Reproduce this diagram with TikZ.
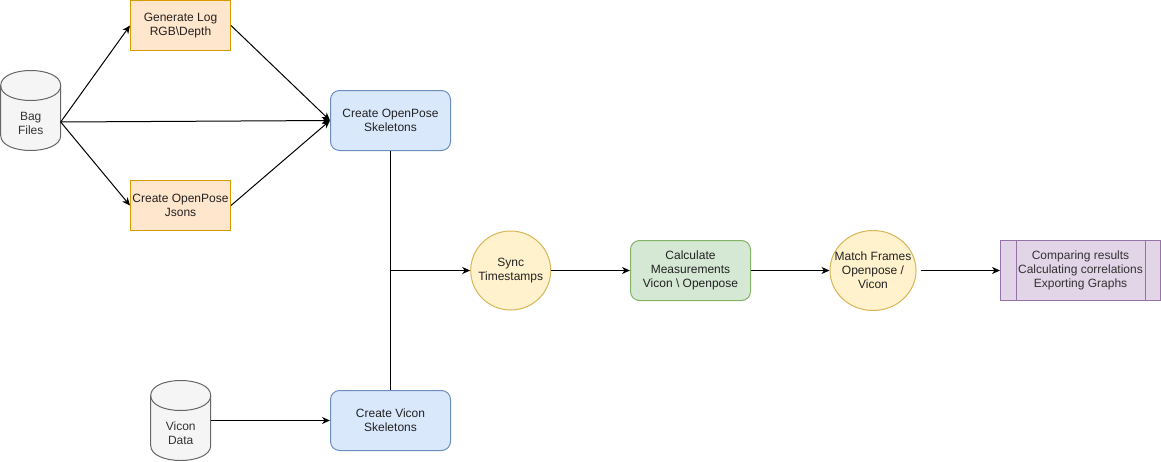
\documentclass[tikz,border=0pt]{standalone}
\usepackage{fontspec}
\setmainfont{Liberation Sans}
\usetikzlibrary{arrows.meta,shapes.geometric,calc}
\definecolor{orfill}{HTML}{FFE6CC}
\definecolor{ordraw}{HTML}{D79B00}
\definecolor{blfill}{HTML}{DAE8FC}
\definecolor{bldraw}{HTML}{6C8EBF}
\definecolor{yefill}{HTML}{FFF2CC}
\definecolor{yedraw}{HTML}{D6B656}
\definecolor{grfill}{HTML}{D5E8D4}
\definecolor{grdraw}{HTML}{82B366}
\definecolor{pufill}{HTML}{E1D5E7}
\definecolor{pudraw}{HTML}{9673A6}
\definecolor{cyfill}{HTML}{F5F5F5}
\definecolor{cydraw}{HTML}{666666}
\definecolor{txt}{HTML}{222222}
\definecolor{cytxt}{HTML}{333333}
\begin{document}
\begin{tikzpicture}[x=1pt,y=-1pt,
  every node/.style={font=\fontsize{12}{14}\selectfont, text=txt, align=center, inner sep=0pt},
  orbox/.style={draw=ordraw, fill=orfill, line width=1pt, minimum width=100pt, minimum height=50pt},
  blbox/.style={draw=bldraw, fill=blfill, line width=1pt, rounded corners=9pt, minimum width=120pt, minimum height=60pt},
  grbox/.style={draw=grdraw, fill=grfill, line width=1pt, rounded corners=9pt, minimum width=120pt, minimum height=60pt},
  yeell/.style={draw=yedraw, fill=yefill, line width=1pt, ellipse},
  pubox/.style={draw=pudraw, fill=pufill, line width=1pt, minimum width=160pt, minimum height=60pt},
  cylshape/.style={draw=cydraw, fill=cyfill, line width=1pt},
  cyllabel/.style={text=cytxt},
  arr/.style={draw=black, line width=1pt, -{Stealth[length=8pt,width=7pt,inset=2.5pt]}},
  plain/.style={draw=black, line width=1pt}
]
\useasboundingbox (0,0) rectangle (1161,461);

% Bag Files cylinder
\draw[cylshape] (0.7,85.5) .. controls (0.7,65.5) and (60.7,65.5) .. (60.7,85.5) -- (60.7,135.5)
  .. controls (60.7,155.5) and (0.7,155.5) .. (0.7,135.5) -- cycle;
\draw[cylshape, fill=none] (0.7,85.5) .. controls (0.7,105.5) and (60.7,105.5) .. (60.7,85.5);
\node[cyllabel] (bag) at (30.7,123.5) {Bag\\Files};
\coordinate (bagout) at (60.7,122);

% Vicon Data cylinder
\draw[cylshape] (150.7,395.5) .. controls (150.7,375.5) and (210.7,375.5) .. (210.7,395.5) -- (210.7,445.5)
  .. controls (210.7,465.5) and (150.7,465.5) .. (150.7,445.5) -- cycle;
\draw[cylshape, fill=none] (150.7,395.5) .. controls (150.7,415.5) and (210.7,415.5) .. (210.7,395.5);
\node[cyllabel] (vdata) at (180.7,433.5) {Vicon\\Data};
\coordinate (vdataout) at (210.7,420.5);

% boxes
\node[orbox] (gen) at (180.5,25.5) {Generate Log\\RGB\textbackslash Depth};
\node[orbox] (json) at (180.5,205.5) {Create OpenPose\\Jsons};
\node[blbox] (skel) at (390.5,120.5) {Create OpenPose\\Skeletons};
\node[blbox] (vsk) at (390.5,420.5) {Create Vicon\\Skeletons};
\node[yeell, minimum width=80pt, minimum height=79pt] (sync) at (510.7,270.5) {};
\node (synct) at (sync.center) {Sync\\Timestamps};
\node[grbox] (calc) at (690.5,270.5) {Calculate\\Measurements\\Vicon \textbackslash\ Openpose};
\node[yeell, minimum width=86pt, minimum height=80pt] (match) at (873,270.5) {};
\node (matcht) at (match.center) {Match Frames\\Openpose /\\Vicon};
\node[pubox, text=cytxt] (comp) at (1080.5,270.5) {Comparing results\\Calculating correlations\\Exporting Graphs};
\draw[draw=pudraw, line width=1pt] ([xshift=16pt]comp.north west) -- ([xshift=16pt]comp.south west);
\draw[draw=pudraw, line width=1pt] ([xshift=-16pt]comp.north east) -- ([xshift=-16pt]comp.south east);

% connectors
\draw[arr] (bagout) -- (gen.west);
\draw[arr] (bagout) -- (json.west);
\draw[arr] (bagout) -- (skel.west);
\draw[arr] (gen.east) -- (skel.west);
\draw[arr] (json.east) -- (skel.west);
\draw[arr] (vdataout) -- (vsk.west);
\draw[arr] (skel.south) |- (sync.west);
\draw[plain] (vsk.north) -- (skel.south);
\draw[arr] (sync.east) -- (calc.west);
\draw[arr] (calc.east) -- (match.west);
\draw[arr] ([xshift=4pt]match.east) -- (comp.west);
\end{tikzpicture}
\end{document}
